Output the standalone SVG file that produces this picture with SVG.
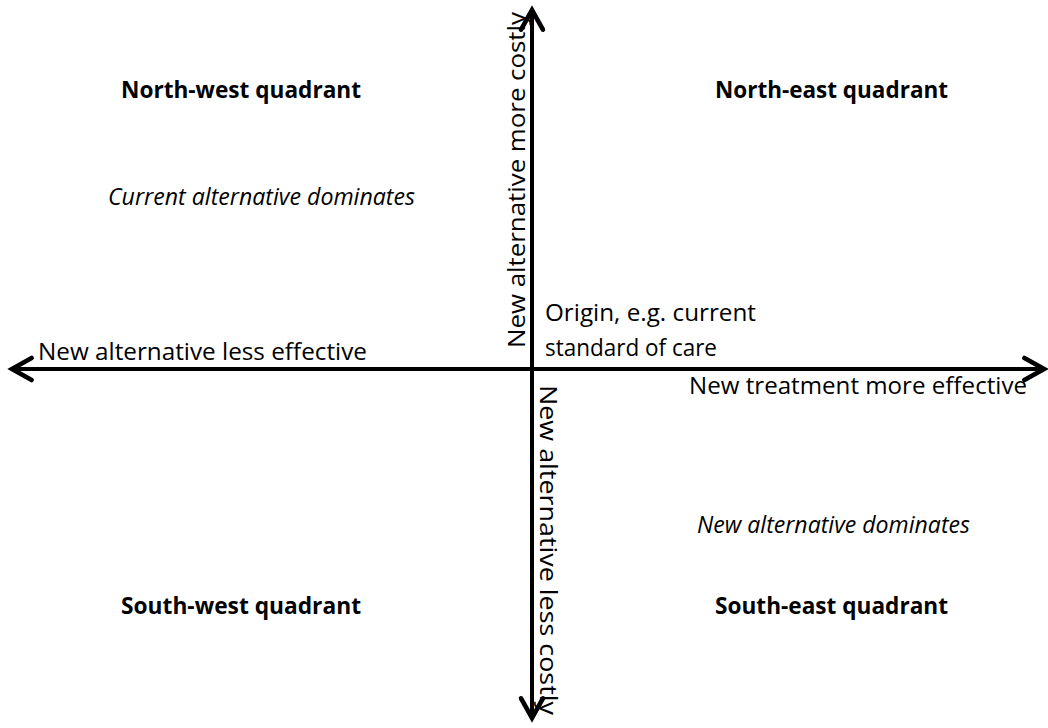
<svg xmlns="http://www.w3.org/2000/svg" width="1048" height="728" viewBox="0 0 1048 728">
  <style>
    .lbl { font-family: "Open Sans", "Liberation Sans", sans-serif; font-size: 23px; fill: #000; }
    .bold { font-weight: bold; }
    .it { font-style: italic; }
    .axis { stroke: #000; stroke-width: 4; fill: none; }
  </style>
  <defs>
    <marker id="chevron" markerUnits="userSpaceOnUse" markerWidth="30" markerHeight="30" refX="0" refY="0" viewBox="-22 -13 26 26" orient="auto" overflow="visible">
      <path d="M-17,-9.5 L0,0 L-17,9.5" stroke="#000" stroke-width="4" fill="none" stroke-linejoin="miter" stroke-linecap="round"/>
    </marker>
  </defs>

  <!-- axes -->
  <g id="connectors">
    <line class="axis" x1="532" y1="369" x2="12" y2="369" marker-end="url(#chevron)"/>
    <line class="axis" x1="532" y1="369" x2="1044" y2="369" marker-end="url(#chevron)"/>
    <line class="axis" x1="532" y1="369" x2="532" y2="10" marker-end="url(#chevron)"/>
    <line class="axis" x1="532" y1="369" x2="532" y2="718" marker-end="url(#chevron)"/>
  </g>

  <g id="nw-quadrant">
    <text class="lbl bold" x="121" y="98" textLength="240" lengthAdjust="spacingAndGlyphs">North-west quadrant</text>
    <text class="lbl it" x="108" y="205" textLength="307" lengthAdjust="spacingAndGlyphs">Current alternative dominates</text>
  </g>
  <g id="ne-quadrant">
    <text class="lbl bold" x="715" y="98" textLength="233" lengthAdjust="spacingAndGlyphs">North-east quadrant</text>
  </g>
  <g id="sw-quadrant">
    <text class="lbl bold" x="121" y="614" textLength="240" lengthAdjust="spacingAndGlyphs">South-west quadrant</text>
  </g>
  <g id="se-quadrant">
    <text class="lbl bold" x="715" y="614" textLength="233" lengthAdjust="spacingAndGlyphs">South-east quadrant</text>
    <text class="lbl it" x="697" y="533" textLength="273" lengthAdjust="spacingAndGlyphs">New alternative dominates</text>
  </g>
  <g id="origin">
    <text class="lbl" x="545" y="321" textLength="211" lengthAdjust="spacingAndGlyphs">Origin, e.g. current</text>
    <text class="lbl" x="545" y="356" textLength="172" lengthAdjust="spacingAndGlyphs">standard of care</text>
  </g>
  <g id="axis-labels">
    <text class="lbl" x="38" y="360" textLength="329" lengthAdjust="spacingAndGlyphs">New alternative less effective</text>
    <text class="lbl" x="689" y="394" textLength="338" lengthAdjust="spacingAndGlyphs">New treatment more effective</text>
    <text class="lbl" transform="translate(525,348) rotate(-90)" x="0" y="0" textLength="336" lengthAdjust="spacingAndGlyphs">New alternative more costly</text>
    <text class="lbl" transform="translate(540,385) rotate(90)" x="0" y="0" textLength="330" lengthAdjust="spacingAndGlyphs">New alternative less costly</text>
  </g>
</svg>
